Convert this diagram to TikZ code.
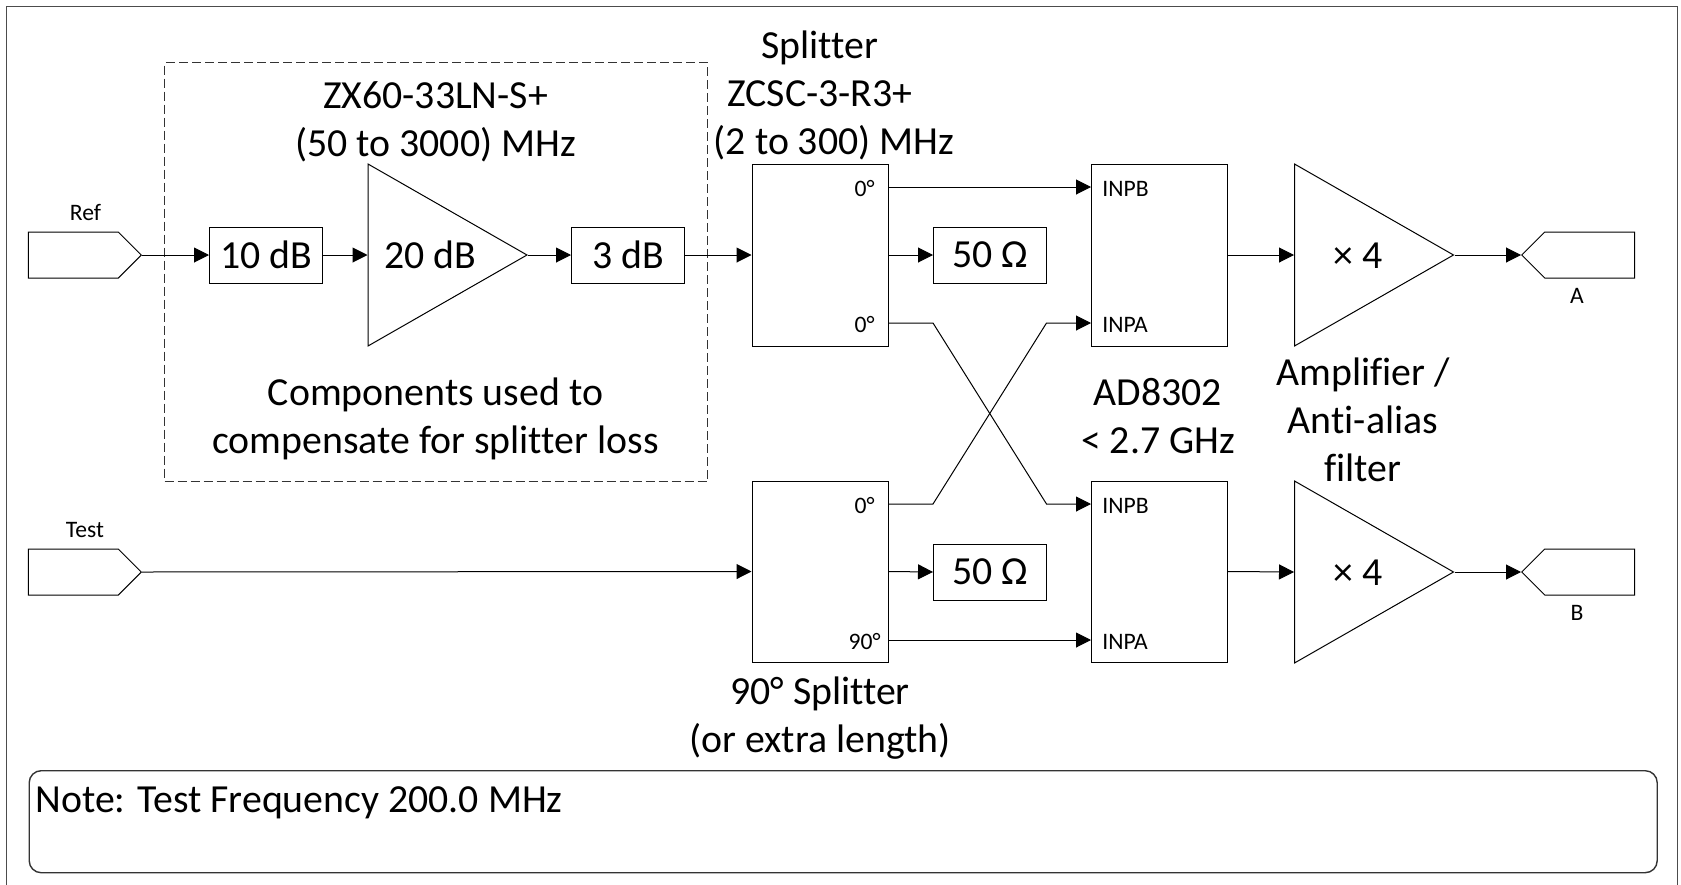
\documentclass[tikz,border=0pt]{standalone}
\usepackage{fontspec}
\setmainfont[Ligatures=NoCommon]{Carlito}
\usetikzlibrary{arrows.meta,shapes.geometric,shapes.symbols}
\tikzset{
	bigtext/.style={font=\fontsize{19.9}{24}\selectfont,inner sep=0pt,align=center},
	smalltext/.style={font=\fontsize{11.8}{13}\selectfont,inner sep=0pt},
	block/.style={draw=black,line width=0.5pt,rectangle,inner sep=0pt,font=\fontsize{19.9}{24}\selectfont},
	amp/.style={draw=black,line width=0.5pt,isosceles triangle,isosceles triangle stretches,shape border rotate=0,minimum height=79.5pt,minimum width=91pt,inner sep=0pt,anchor=lower side},
	port/.style={draw=black,line width=0.5pt,signal,signal from=nowhere,signal pointer angle=90,minimum width=56.5pt,minimum height=23pt,inner sep=0pt}
}
\begin{document}
\begin{tikzpicture}[x=0.5pt,y=-0.5pt]
	\useasboundingbox (0,0) rectangle (1681,884);
	\node (frame) [draw=black!70,line width=0.6pt,rectangle,minimum width=835.5pt,minimum height=440pt,anchor=north west,inner sep=0pt] at (6,6) {};
	\node (group) [draw=black!80,line width=0.5pt,dash pattern=on 4.5pt off 2pt,rectangle,minimum width=271.5pt,minimum height=209.5pt,anchor=north west,inner sep=0pt] at (164,62) {};
	\node (note) [draw=black!80,line width=0.7pt,rounded corners=6pt,rectangle,minimum width=814pt,minimum height=51pt,anchor=north west,inner sep=0pt] at (28.5,770) {};

	\begin{scope}[every node/.append style={block}]
		\node (atten) [minimum width=56.5pt,minimum height=28pt] at (266,255) {10 dB};
		\node (pad) [minimum width=56.5pt,minimum height=28pt] at (628,255) {3 dB};
		\node (splita) [minimum width=68pt,minimum height=91pt] at (820,255) {};
		\node (splitb) [minimum width=68pt,minimum height=90.5pt] at (820,571.5) {};
		\node (loada) [minimum width=56.5pt,minimum height=28pt] at (990,255) {50 Ω};
		\node (loadb) [minimum width=56.5pt,minimum height=28pt] at (990,572) {50 Ω};
		\node (deta) [minimum width=68pt,minimum height=91pt] at (1159,255) {};
		\node (detb) [minimum width=68pt,minimum height=90.5pt] at (1159,571.5) {};
	\end{scope}

	\node (gain) [amp] at (367.5,255) {};
	\node (ampa) [amp] at (1294,255) {};
	\node (ampb) [amp] at (1294,572) {};

	\node (ref) [port,signal to=east,anchor=east] at (142,255) {};
	\node (test) [port,signal to=east,anchor=east] at (142,572) {};
	\node (outa) [port,signal to=west,anchor=west] at (1521,255) {};
	\node (outb) [port,signal to=west,anchor=west] at (1521,572) {};

	\begin{scope}[every node/.append style={smalltext,anchor=base}]
		\node (reflabel) at (85.5,220) {Ref};
		\node (testlabel) at (85,537) {Test};
		\node (alabel) at (1577,303) {A};
		\node (blabel) at (1577,620) {B};
	\end{scope}
	\begin{scope}[every node/.append style={smalltext,anchor=base east}]
		\node (aone) at (875,196) {0°};
		\node (atwo) at (875,332) {0°};
		\node (bone) at (875,513) {0°};
		\node (btwo) at (881,649) {90°};
	\end{scope}
	\begin{scope}[every node/.append style={smalltext,anchor=base west}]
		\node (inab) at (1102,196) {INPB};
		\node (inaa) at (1102,332) {INPA};
		\node (inbb) at (1102,513) {INPB};
		\node (inba) at (1102,649) {INPA};
	\end{scope}

	\begin{scope}[every node/.append style={bigtext}]
		\node (gaintext) [anchor=base] at (430,268) {20 dB};
		\node (ampatext) [anchor=base] at (1358,268) {× 4};
		\node (ampbtext) [anchor=base] at (1358,585) {× 4};
		\node (lna) [anchor=base] at (435.5,156.5) {ZX60-33LN-S+\\(50 to 3000) MHz};
		\node (comp) [anchor=base] at (435.5,453) {Components used to\\compensate for splitter loss};
		\node (splitter) [anchor=base] at (820,106) {Splitter\\ZCSC-3-R3+};
		\node (splitband) [anchor=base] at (834,154.5) {(2 to 300) MHz};
		\node (detector) [anchor=base] at (1158,453.5) {AD8302\\< 2.7 GHz};
		\node (filter) [anchor=base] at (1363,481) {Amplifier /\\Anti-alias\\filter};
		\node (quad) [anchor=base] at (820,752) {90° Splitter\\(or extra length)};
		\node (notetext) [anchor=base west] at (35,812) {Note: Test Frequency 200.0 MHz};
	\end{scope}

	\coordinate (aoneout) at (888,187);
	\coordinate (atwoout) at (888,323);
	\coordinate (boneout) at (888,504);
	\coordinate (btwoout) at (888,640);
	\coordinate (abin) at (1091,187);
	\coordinate (aain) at (1091,323);
	\coordinate (bbin) at (1091,504);
	\coordinate (bain) at (1091,640);

	\begin{scope}[every path/.append style={draw=black,line width=0.5pt,-{Triangle[length=7.5pt,width=7.5pt]}}]
		\path (ref.east) -- (atten.west);
		\path (atten.east) -- (gain.lower side);
		\path (gain.apex) -- (pad.west);
		\path (pad.east) -- (splita.west);
		\path (test.east) -- (splitb.west);
		\path (splita.east) -- (loada.west);
		\path (splitb.east) -- (loadb.west);
		\path (aoneout) -- (abin);
		\path (btwoout) -- (bain);
		\path (atwoout) -- (933,323) -- (1046.5,504) -- (bbin);
		\path (boneout) -- (933,504) -- (1046.5,323) -- (aain);
		\path (deta.east) -- (ampa.lower side);
		\path (detb.east) -- (ampb.lower side);
		\path (ampa.apex) -- (outa.west);
		\path (ampb.apex) -- (outb.west);
	\end{scope}
\end{tikzpicture}
\end{document}
